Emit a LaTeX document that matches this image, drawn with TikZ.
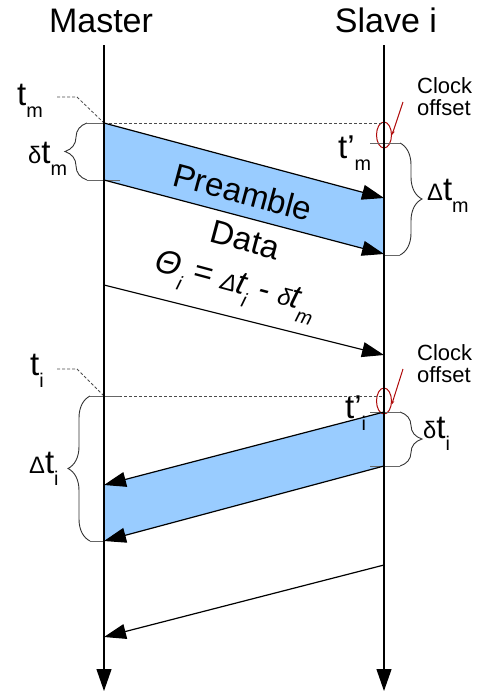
\documentclass[tikz,border=0pt]{standalone}
\usepackage{fontspec}
\setmainfont{Liberation Sans}
\usetikzlibrary{positioning,arrows.meta,shapes.geometric,decorations.pathreplacing}
\definecolor{bandblue}{RGB}{153,204,255}
\definecolor{clockred}{RGB}{175,10,10}
\newcommand{\lsub}[1]{\raisebox{-.39em}{\scalebox{.6}{#1}}}
\newcommand{\gk}[1]{\scalebox{.72}{#1}}

\begin{document}
\begin{tikzpicture}[
  x=1pt, y=-1pt,
  every node/.style={inner sep=0pt},
  ttl/.style={font=\fontsize{34}{34}\selectfont, anchor=base},
  lbl/.style={font=\fontsize{33}{33}\selectfont, anchor=base west},
  rot/.style={font=\fontsize{33}{33}\selectfont, rotate=-15},
  note/.style={font=\fontsize{22}{22}\selectfont, align=left, anchor=north west},
  clk/.style={ellipse, draw=clockred, line width=1pt, minimum width=15pt, minimum height=26pt},
  life/.style={line width=1.2pt, -{Triangle[length=22pt,width=15pt]}},
  msg/.style={line width=1.2pt, -{Triangle[length=22pt,width=15pt]}},
  band/.style={fill=bandblue, draw=none},
  lead/.style={black!70, line width=0.8pt, dash pattern=on 3pt off 2pt},
  brc/.style={decorate, decoration={brace, amplitude=22pt}, black!80, line width=0.9pt},
  tick/.style={black!60, line width=1pt},
  hint/.style={clockred, line width=1pt, -{Stealth[length=4pt,width=3pt]}}
]
\useasboundingbox (0,0) rectangle (483,694);

\coordinate (m0) at (104,45);  \coordinate (m1) at (104,691);
\coordinate (s0) at (384,45);  \coordinate (s1) at (384,691);
\coordinate (a1) at (104,123); \coordinate (a2) at (384,198);
\coordinate (a3) at (104,180); \coordinate (a4) at (384,254);
\coordinate (b1) at (384,412); \coordinate (b2) at (104,485);
\coordinate (b3) at (384,466); \coordinate (b4) at (104,541);
\coordinate (c1) at (104,285); \coordinate (c2) at (384,355);
\coordinate (d1) at (384,565); \coordinate (d2) at (104,637);

\fill[band] (a1) -- (a2) -- (a4) -- (a3) -- cycle;
\fill[band] (b1) -- (b2) -- (b4) -- (b3) -- cycle;

\node[ttl] (master) at (101,32) {Master};
\node[ttl] (slave) at (386,32) {Slave i};

\node[lbl] (tm) at (17,105) {t\lsub{m}};
\node[lbl] (dtm) at (28,163) {\gk{δ}t\lsub{m}};
\node[lbl] (tpm) at (338,158) {t\char"27\lsub{m}};
\node[lbl] (Dtm) at (427,200) {\gk{Δ}t\lsub{m}};
\node[lbl] (ti) at (30,375) {t\lsub{i}};
\node[lbl] (Dti) at (29,473) {\gk{Δ}t\lsub{i}};
\node[lbl] (tpi) at (345,418) {t\char"27\lsub{i}};
\node[lbl] (dti) at (423,438) {\gk{δ}t\lsub{i}};

\node[rot] (pre) at (243,192) {Preamble};
\node[rot] (data) at (245,240) {Data};
\node[rot, font=\fontsize{33}{33}\selectfont\itshape] (theta) at (235,287) {Θ\lsub{i} = \gk{Δ}t\lsub{i} - \gk{δ}t\lsub{m}};

\node[note] (off1) at (417,77) {Clock\\offset};
\node[note] (off2) at (417,344) {Clock\\offset};
\node[clk] (clk1) at (384,135) {};
\node[clk] (clk2) at (384,401) {};
\coordinate (h1) at (403,102);
\coordinate (h2) at (403,369);
\draw[hint] (h1) -- (clk1.east);
\draw[hint] (h2) -- (clk2.-25);

\coordinate (l1) at (57,97);  \coordinate (k1) at (77,97);
\coordinate (l2) at (57,369); \coordinate (k2) at (77,369);
\coordinate (e1) at (104,396); \coordinate (e2) at (384,396);
\coordinate (e3) at (384,123);
\draw[lead] (l1) -- (k1) -- (a1);
\draw[lead] (l2) -- (k2) -- (e1);
\draw[lead] (a1) -- (e3);
\draw[lead] (e1) -- (e2);

\draw[brc] (87,180) -- (87,123);
\draw[brc] (400,143) -- (400,255);
\draw[brc] (90,541) -- (90,396);
\draw[brc] (400,412) -- (400,466);
\draw[tick] (87,123) -- (104,123);
\draw[tick] (87,180) -- (120,180);
\draw[tick] (370,143) -- (400,143);
\draw[tick] (384,255) -- (400,255);
\draw[tick] (90,396) -- (120,396);
\draw[tick] (90,541) -- (104,541);
\draw[tick] (370,412) -- (400,412);
\draw[tick] (370,466) -- (400,466);

\foreach \p/\q in {m0/m1,s0/s1} \draw[life] (\p) -- (\q);
\foreach \p/\q in {a1/a2,a3/a4,c1/c2,b1/b2,b3/b4,d1/d2} \draw[msg] (\p) -- (\q);
\end{tikzpicture}
\end{document}
